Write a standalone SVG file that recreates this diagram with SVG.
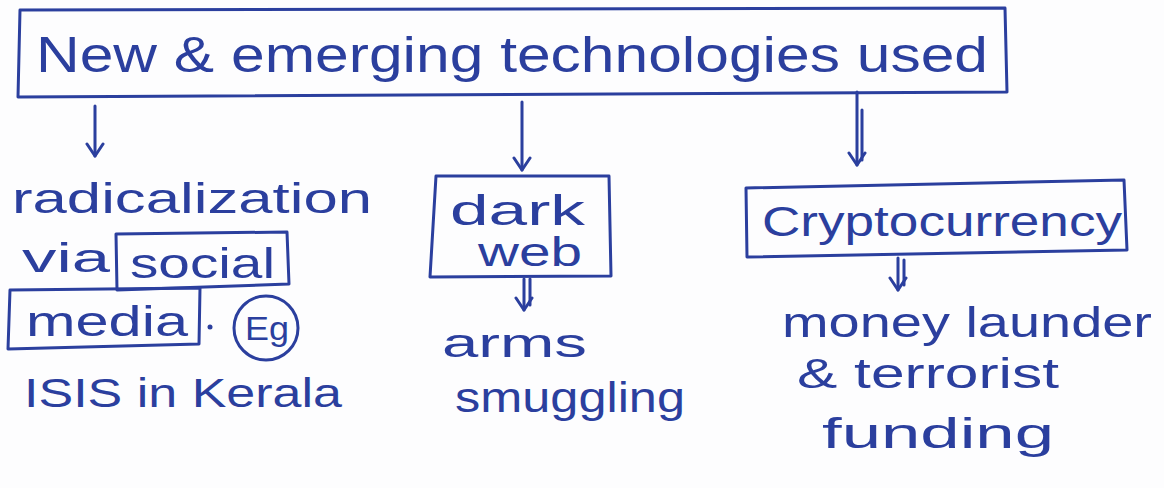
<svg xmlns="http://www.w3.org/2000/svg" width="1164" height="488" viewBox="0 0 1164 488">
<style>
.ink{stroke:#2b3f9e;stroke-width:3;fill:none;stroke-linecap:round;stroke-linejoin:round}
.t{font-family:"Liberation Sans",Arial,sans-serif;fill:#2b3f9e}
</style>
<defs>
<marker id="ah" viewBox="0 0 20 20" refX="18" refY="10" markerWidth="20" markerHeight="20" markerUnits="userSpaceOnUse" orient="auto">
<path d="M6 2 L18 10 L6 18" fill="none" stroke="#2b3f9e" stroke-width="3" stroke-linecap="round" stroke-linejoin="round"/>
</marker>
</defs>
<rect width="1164" height="488" fill="#fdfdfe"/>
<g id="top">
<path class="ink" d="M20 10 L1005 8 L1007 92 L18 97 Z"/>
<text class="t" x="36" y="72" font-size="50" textLength="952" lengthAdjust="spacingAndGlyphs">New &amp; emerging technologies used</text>
</g>
<g id="connectors">
<line class="ink" x1="95" y1="106" x2="95" y2="156" marker-end="url(#ah)"/>
<line class="ink" x1="522" y1="102" x2="522" y2="170" marker-end="url(#ah)"/>
<line class="ink" x1="857" y1="92" x2="857" y2="165" marker-end="url(#ah)"/>
<line class="ink" x1="862" y1="110" x2="862" y2="160"/>
<line class="ink" x1="524" y1="279" x2="524" y2="310" marker-end="url(#ah)"/>
<line class="ink" x1="530" y1="279" x2="530" y2="305"/>
<line class="ink" x1="898" y1="258" x2="898" y2="290" marker-end="url(#ah)"/>
<line class="ink" x1="904" y1="260" x2="904" y2="285"/>
</g>
<g id="radicalization">
<text class="t" x="12" y="213" font-size="42" textLength="360" lengthAdjust="spacingAndGlyphs">radicalization</text>
<text class="t" x="22" y="272" font-size="40" textLength="88" lengthAdjust="spacingAndGlyphs">via</text>
<path class="ink" d="M116 234 L287 232 L289 284 L117 290 Z"/>
<text class="t" x="130" y="278" font-size="42" textLength="145" lengthAdjust="spacingAndGlyphs">social</text>
<path class="ink" d="M10 290 L200 288 L199 344 L8 349 Z"/>
<text class="t" x="26" y="336" font-size="42" textLength="162" lengthAdjust="spacingAndGlyphs">media</text>
<circle cx="210" cy="327" r="2.5" fill="#2b3f9e"/>
<circle class="ink" cx="266" cy="328" r="32"/>
<text class="t" x="245" y="340" font-size="34" textLength="44" lengthAdjust="spacingAndGlyphs">Eg</text>
<text class="t" x="24" y="407" font-size="40" textLength="318" lengthAdjust="spacingAndGlyphs">ISIS in Kerala</text>
</g>
<g id="darkweb">
<path class="ink" d="M436 176 L609 176 L611 276 L430 277 Z"/>
<text class="t" x="450" y="225" font-size="42" textLength="135" lengthAdjust="spacingAndGlyphs">dark</text>
<text class="t" x="478" y="266" font-size="40" textLength="104" lengthAdjust="spacingAndGlyphs">web</text>
</g>
<g id="arms">
<text class="t" x="442" y="357" font-size="40" textLength="145" lengthAdjust="spacingAndGlyphs">arms</text>
<text class="t" x="455" y="412" font-size="42" textLength="230" lengthAdjust="spacingAndGlyphs">smuggling</text>
</g>
<g id="crypto">
<path class="ink" d="M746 188 L1124 180 L1127 250 L747 257 Z"/>
<text class="t" x="762" y="236" font-size="42" textLength="360" lengthAdjust="spacingAndGlyphs">Cryptocurrency</text>
</g>
<g id="money">
<text class="t" x="782" y="337" font-size="42" textLength="370" lengthAdjust="spacingAndGlyphs">money launder</text>
<text class="t" x="797" y="388" font-size="42" textLength="262" lengthAdjust="spacingAndGlyphs">&amp; terrorist</text>
<text class="t" x="822" y="448" font-size="42" textLength="232" lengthAdjust="spacingAndGlyphs">funding</text>
</g>
</svg>
